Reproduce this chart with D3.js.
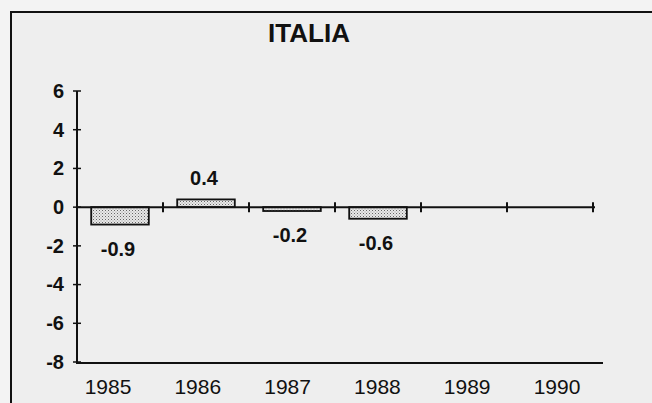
<!DOCTYPE html>
<html><head><meta charset="utf-8">
<script src="https://cdn.jsdelivr.net/npm/d3@7"></script>
<style>html,body{margin:0;padding:0;background:#f2f2f2;overflow:hidden;}svg{display:block;}</style>
</head><body>
<svg id="c" width="652" height="403"></svg>
<script>
const title = "ITALIA";
const years = ["1985","1986","1987","1988","1989","1990"];
const values = [-0.9, 0.4, -0.2, -0.6, null, null];
const yTicks = [6,4,2,0,-2,-4,-6,-8];

const svg = d3.select("#c");
const font = "'Liberation Sans', Arial, Helvetica, sans-serif";
const hy = s => s.replace("\u2212","-");

const defs = svg.append("defs");
const pat = defs.append("pattern").attr("id","dots").attr("patternUnits","userSpaceOnUse")
  .attr("width",3).attr("height",3);
pat.append("rect").attr("width",3).attr("height",3).attr("fill","#e8e8e8");
pat.append("rect").attr("x",0).attr("y",0).attr("width",1).attr("height",1).attr("fill","#666");
pat.append("rect").attr("x",1.5).attr("y",1.5).attr("width",1).attr("height",1).attr("fill","#999");

// background + frame (top and left edges only visible)
svg.append("rect").attr("x",0).attr("y",0).attr("width",652).attr("height",403).attr("fill","#f3f3f3");
svg.append("rect").attr("x",11).attr("y",12).attr("width",641).attr("height",391).attr("fill","#eeeeee");
svg.append("path").attr("d","M11,403 V12 H652").attr("fill","none").attr("stroke","#111").attr("stroke-width",2);

const y = d3.scaleLinear().domain([-8,6]).range([362,91]);
const x = d3.scaleBand().domain(years).range([77,593]).paddingInner(0.33).paddingOuter(0.165);
const xl = d3.scalePoint().domain(years).range([108,557]);

svg.append("text").attr("x",309).attr("y",42).attr("text-anchor","middle")
  .attr("font-family",font).attr("font-weight","bold").attr("font-size",26).attr("fill","#111").text(title);

// y axis
const ya = svg.append("g").attr("transform","translate(77,0)")
  .call(d3.axisLeft(y).tickValues(yTicks).tickSize(0).tickPadding(13).tickFormat(d => hy(d3.format("d")(d))));
ya.select(".domain").remove();
ya.selectAll("text").attr("font-family",font).attr("font-size",20).attr("font-weight","bold").attr("fill","#111");
svg.append("line").attr("x1",77).attr("x2",77).attr("y1",y(6)).attr("y2",363).attr("stroke","#111").attr("stroke-width",2);
svg.selectAll("line.yt").data(yTicks).join("line").attr("class","yt")
  .attr("x1",73).attr("x2",81).attr("y1",d=>y(d)).attr("y2",d=>y(d)).attr("stroke","#111").attr("stroke-width",1.5);

// bottom axis
svg.append("line").attr("x1",76).attr("x2",603).attr("y1",363).attr("y2",363).attr("stroke","#111").attr("stroke-width",2);
svg.selectAll("text.yr").data(years).join("text").attr("class","yr")
  .attr("x",d=>xl(d)).attr("y",394).attr("text-anchor","middle")
  .attr("font-family",font).attr("font-size",21).attr("fill","#111").text(d=>d);

// bars
const data = years.map((d,i)=>({year:d, v:values[i]})).filter(d=>d.v!==null);
svg.selectAll("rect.bar").data(data).join("rect").attr("class","bar")
  .attr("x",d=>x(d.year)).attr("width",x.bandwidth())
  .attr("y",d=>y(Math.max(0,d.v))).attr("height",d=>Math.abs(y(d.v)-y(0)))
  .attr("fill","url(#dots)").attr("stroke","#111").attr("stroke-width",1.8);

// zero line with ticks at band boundaries
svg.append("line").attr("x1",77).attr("x2",595).attr("y1",y(0)).attr("y2",y(0)).attr("stroke","#111").attr("stroke-width",2);
svg.selectAll("line.zt").data(years).join("line").attr("class","zt")
  .attr("x1",d=>x(d)+x.bandwidth()+x.step()*x.paddingInner()/2)
  .attr("x2",d=>x(d)+x.bandwidth()+x.step()*x.paddingInner()/2)
  .attr("y1",y(0)-5).attr("y2",y(0)+5).attr("stroke","#111").attr("stroke-width",2);

// value labels
svg.selectAll("text.val").data(data).join("text").attr("class","val")
  .attr("x",d=>x(d.year)+x.bandwidth()/2-2)
  .attr("y",d=>d.v>=0 ? y(d.v)-14 : y(d.v)+31)
  .attr("text-anchor","middle").attr("font-family",font).attr("font-weight","bold")
  .attr("font-size",20).attr("fill","#111").text(d=>hy(d3.format(".1f")(d.v)));
</script>
</body></html>
